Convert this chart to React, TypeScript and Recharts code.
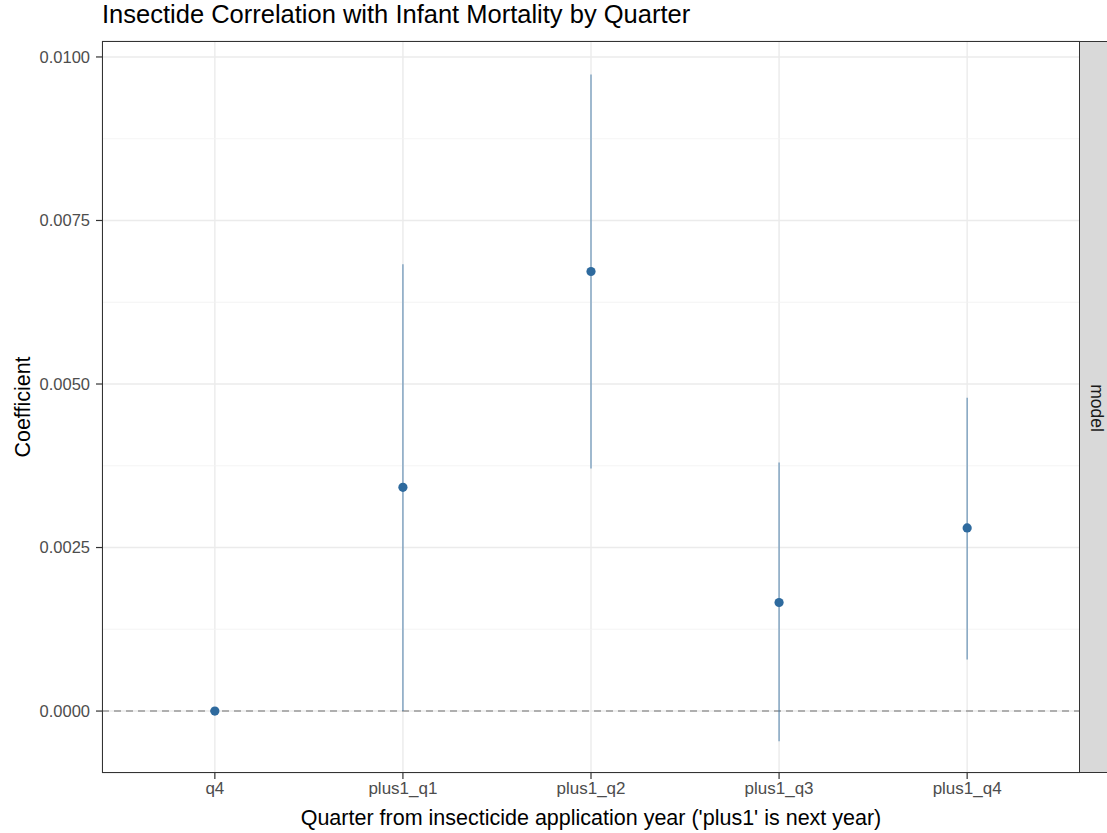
import * as React from "react"
import {
  ComposedChart,
  Scatter,
  ErrorBar,
  XAxis,
  YAxis,
  CartesianGrid,
  ReferenceLine,
} from "recharts"

const categories = ["q4", "plus1_q1", "plus1_q2", "plus1_q3", "plus1_q4"]
const estimates = [0, 0.00342, 0.00672, 0.00166, 0.0028]
const lowerCI = [0, 0.0, 0.00371, -0.00046, 0.00079]
const upperCI = [0, 0.00683, 0.00973, 0.0038, 0.00479]
const yTicks = [0, 0.0025, 0.005, 0.0075, 0.01]
const yMinor = [0.00125, 0.00375, 0.00625, 0.00875]

const data = categories.map((c, i) => ({
  x: i + 1,
  name: c,
  est: estimates[i],
  err: [estimates[i] - lowerCI[i], upperCI[i] - estimates[i]],
}))

const font = "'Liberation Sans', Arial, sans-serif"

export default function App() {
  return (
    <div
      style={{
        position: "absolute",
        left: 0,
        top: 0,
        width: 1107,
        height: 833,
        background: "#fff",
        fontFamily: font,
        overflow: "hidden",
      }}
    >
      <div
        style={{
          position: "absolute",
          left: 102,
          top: 0,
          fontSize: 25.5,
          color: "#000",
          whiteSpace: "nowrap",
        }}
      >
        Insectide Correlation with Infant Mortality by Quarter
      </div>
      <ComposedChart
        width={1107}
        height={833}
        data={data}
        margin={{ top: 41, right: 27, bottom: 0, left: 0 }}
      >
        <CartesianGrid stroke="#EBEBEB" strokeWidth={1.4} />
        {yMinor.map((v) => (
          <ReferenceLine key={v} y={v} stroke="#F3F3F3" strokeWidth={0.9} />
        ))}
        <XAxis
          type="number"
          dataKey="x"
          domain={[0.4, 5.6]}
          ticks={[1, 2, 3, 4, 5]}
          allowDataOverflow
          tickFormatter={(v: number) => categories[v - 1]}
          tick={{ fill: "#4D4D4D", fontSize: 17, fontFamily: font }}
          tickLine={{ stroke: "#333", strokeWidth: 1.2 }}
          tickSize={6}
          tickMargin={3}
          axisLine={false}
          height={60}
          label={{
            value: "Quarter from insecticide application year ('plus1' is next year)",
            position: "insideBottom",
            offset: 8,
            fill: "#000",
            fontSize: 21.5,
            fontFamily: font,
          }}
        />
        <YAxis
          type="number"
          domain={[-0.000947, 0.010244]}
          ticks={yTicks}
          allowDataOverflow
          tickFormatter={(v: number) => v.toFixed(4)}
          tick={{ fill: "#4D4D4D", fontSize: 16.5, fontFamily: font }}
          tickLine={{ stroke: "#333", strokeWidth: 1.2 }}
          tickSize={6}
          tickMargin={6}
          axisLine={false}
          width={102}
          label={{
            value: "Coefficient",
            angle: -90,
            position: "insideLeft",
            offset: 22,
            fill: "#000",
            fontSize: 21.5,
            fontFamily: font,
            style: { textAnchor: "middle" },
          }}
        />
        <ReferenceLine y={0} stroke="#999" strokeWidth={1.5} strokeDasharray="7 5" />
        <Scatter dataKey="est" fill="#2E6A9E" isAnimationActive={false} shape={(p: any) => (
          <circle cx={p.cx} cy={p.cy} r={4.6} fill="#2E6A9E" />
        )}>
          <ErrorBar
            dataKey="err"
            direction="y"
            width={0}
            stroke="#2E6A9E"
            strokeOpacity={0.6}
            strokeWidth={1.4}
            isAnimationActive={false}
          />
        </Scatter>
      </ComposedChart>
      <div
        style={{
          position: "absolute",
          left: 102,
          top: 41,
          width: 978,
          height: 732,
          border: "1.5px solid #333",
          boxSizing: "border-box",
          pointerEvents: "none",
        }}
      />
      <div
        style={{
          position: "absolute",
          left: 1079,
          top: 41,
          width: 40,
          height: 732,
          border: "1.5px solid #333",
          boxSizing: "border-box",
          background: "#D9D9D9",
        }}
      >
        <div
          style={{
            position: "absolute",
            left: 16,
            top: 366,
            transform: "translate(-50%, -50%) rotate(90deg)",
            fontSize: 17.5,
            color: "#1A1A1A",
          }}
        >
          model
        </div>
      </div>
    </div>
  )
}
